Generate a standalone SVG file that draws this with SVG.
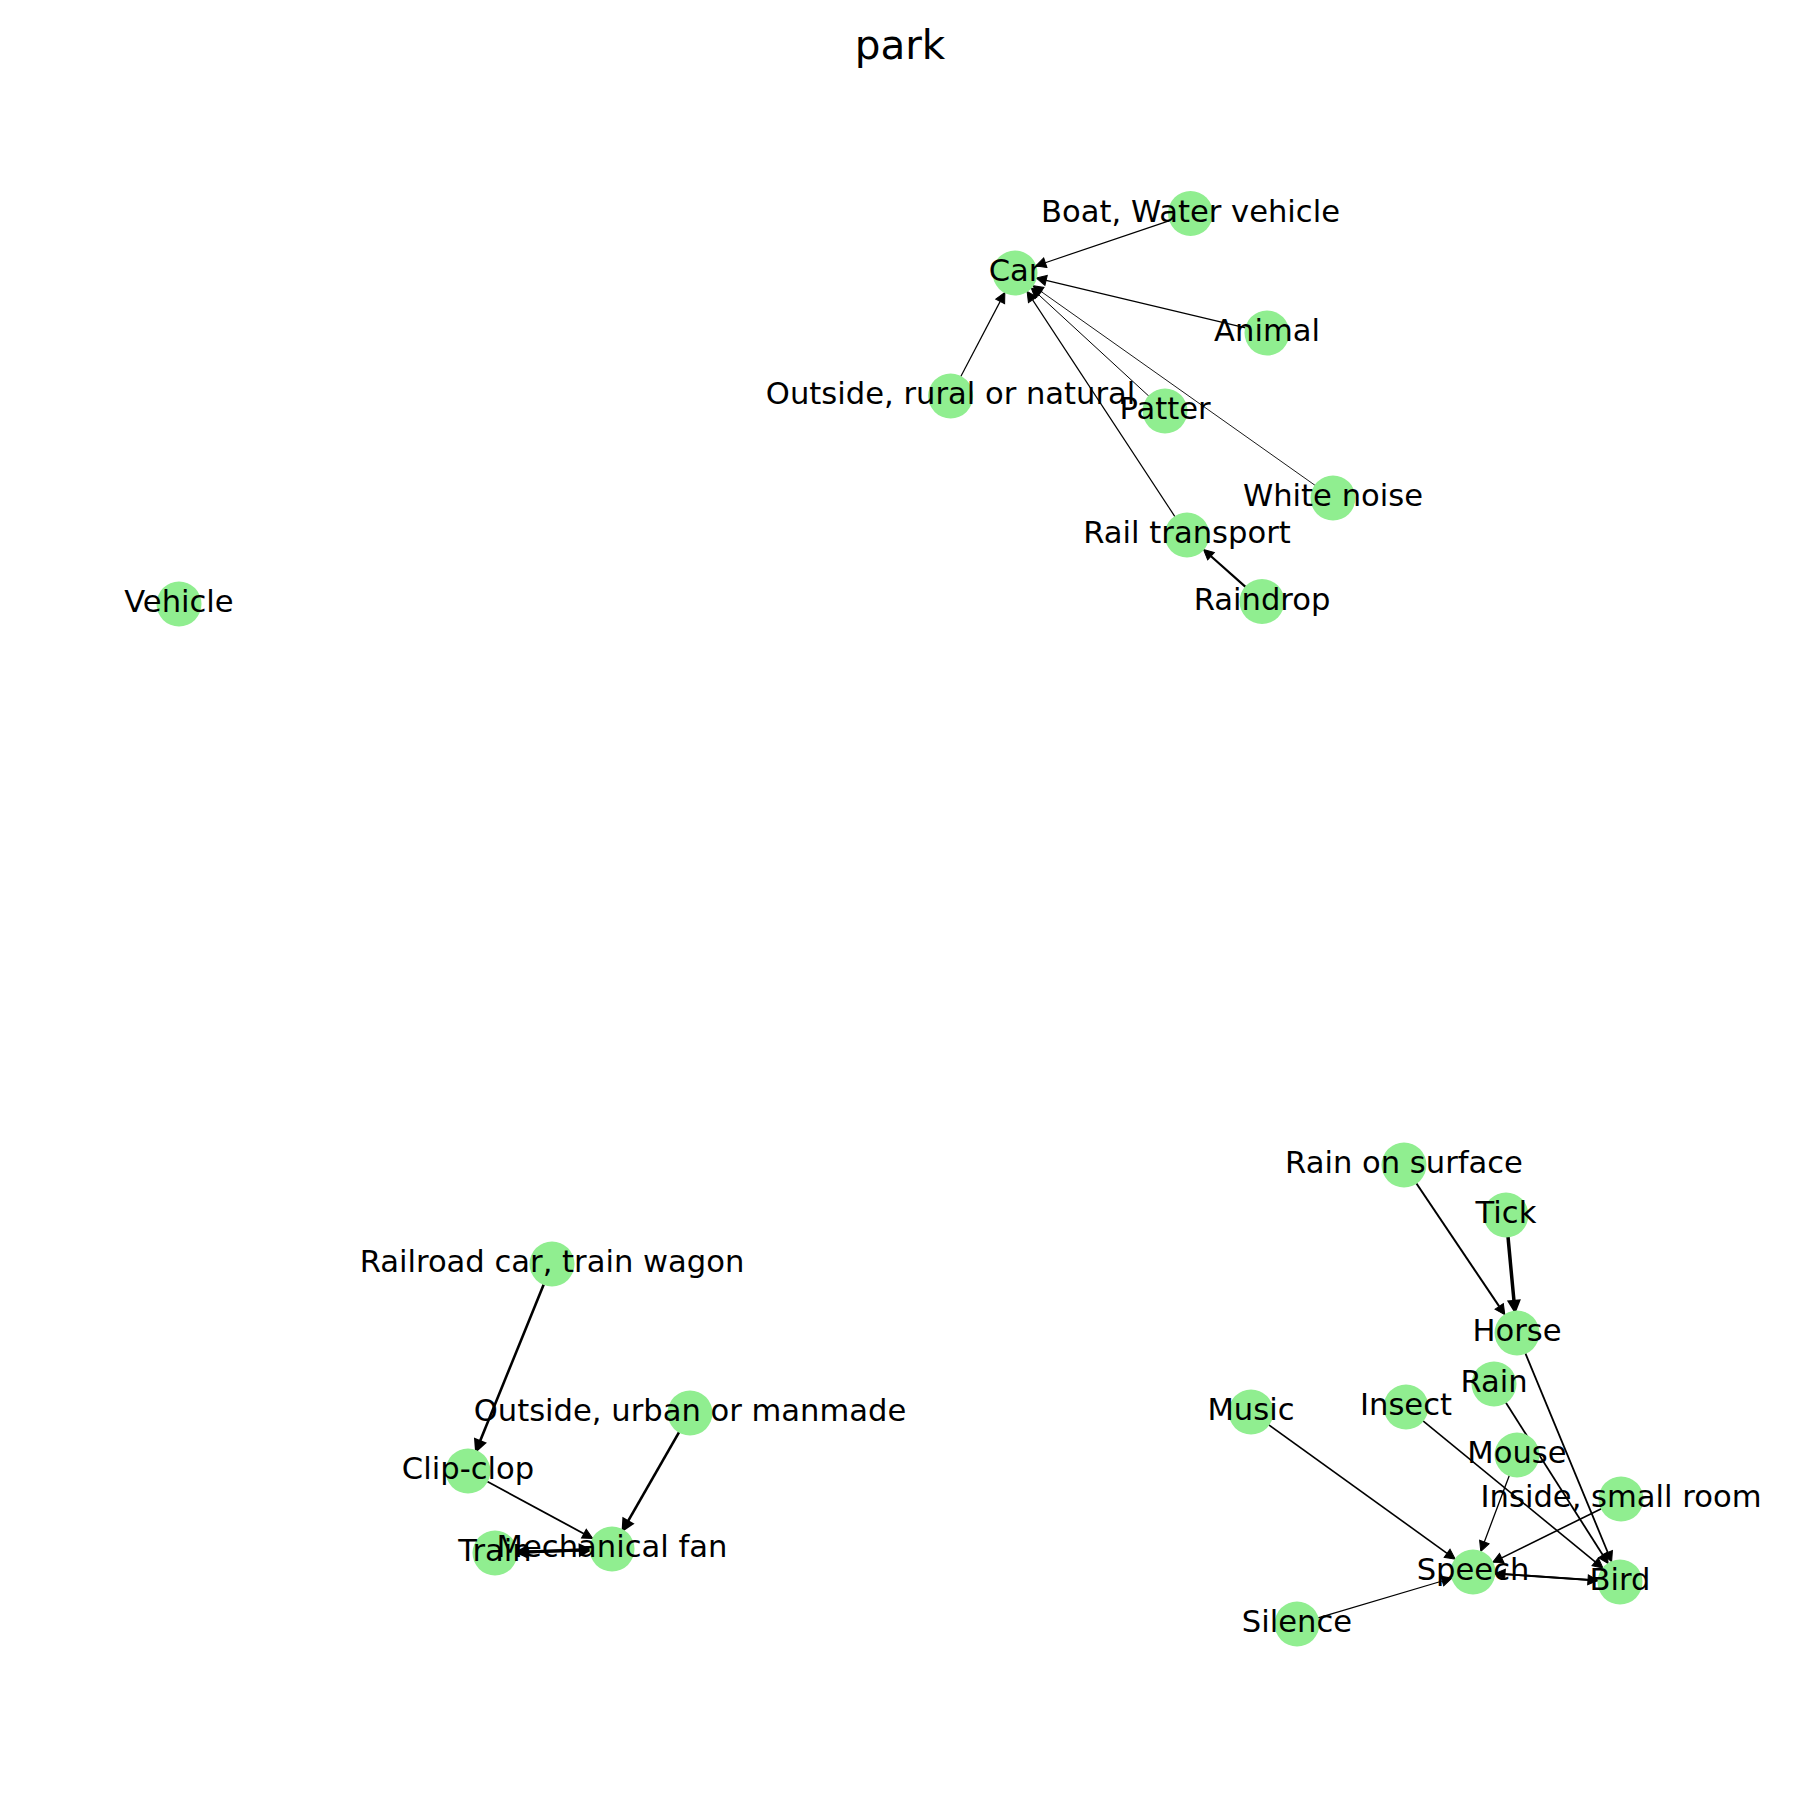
<svg xmlns="http://www.w3.org/2000/svg" width="1800" height="1800" viewBox="0 0 1800 1800">
<style>
.n circle{fill:#90ee90}
.n text{font-family:"DejaVu Sans",sans-serif;font-size:30.6px;text-anchor:middle;fill:#000}
.e line{stroke:#000;fill:none}
.t{font-family:"DejaVu Sans",sans-serif;font-size:40.5px;text-anchor:middle;fill:#000}
</style>
<defs>
<marker id="a" markerUnits="userSpaceOnUse" markerWidth="12" markerHeight="12" refX="0" refY="6" orient="auto" overflow="visible">
<path d="M0,1 L10,6 L0,11 z" fill="#000" stroke="#000" stroke-width="1"/>
</marker>
<marker id="b" markerUnits="userSpaceOnUse" markerWidth="12" markerHeight="12" refX="0" refY="6" orient="auto" overflow="visible">
<path d="M0,1 L10,6 L0,11 z" fill="#000" stroke="#000" stroke-width="2.5" stroke-linejoin="miter"/>
</marker>
</defs>
<rect width="1800" height="1800" fill="#fff"/>
<text class="t" x="900" y="59">park</text>
<g id="edges" class="e">
<line x1="1169.7" y1="220.6" x2="1045.3" y2="262.7" stroke-width="1.2" marker-end="url(#a)"/>
<line x1="1245.6" y1="327.9" x2="1046.1" y2="280.4" stroke-width="1.2" marker-end="url(#a)"/>
<line x1="960.8" y1="376.5" x2="1000.2" y2="301.4" stroke-width="1.2" marker-end="url(#a)"/>
<line x1="1148.8" y1="396.1" x2="1038.6" y2="294.7" stroke-width="1" marker-end="url(#a)"/>
<line x1="1315.0" y1="485.3" x2="1041.1" y2="291.5" stroke-width="0.9" marker-end="url(#a)"/>
<line x1="1174.9" y1="516.6" x2="1032.6" y2="299.8" stroke-width="1.2" marker-end="url(#a)"/>
<line x1="1245.5" y1="586.9" x2="1211.0" y2="556.2" stroke-width="2.2" marker-end="url(#a)"/>
<line x1="543.7" y1="1284.4" x2="480.0" y2="1441.3" stroke-width="2.6" marker-end="url(#b)"/>
<line x1="679.1" y1="1432.1" x2="627.9" y2="1521.3" stroke-width="2.6" marker-end="url(#b)"/>
<line x1="487.3" y1="1481.5" x2="583.9" y2="1533.7" stroke-width="1.8" marker-end="url(#a)"/>
<line x1="517" y1="1552.3" x2="580" y2="1550.1" stroke-width="3" marker-end="url(#b)"/>
<line x1="590" y1="1549.7" x2="527" y2="1551.9" stroke-width="3" marker-end="url(#b)"/>
<line x1="1416.3" y1="1183.3" x2="1499.2" y2="1306.4" stroke-width="2" marker-end="url(#a)"/>
<line x1="1508.0" y1="1236.9" x2="1514.0" y2="1301.2" stroke-width="3.5" marker-end="url(#b)"/>
<line x1="1525.4" y1="1353.3" x2="1607.8" y2="1552.5" stroke-width="1.8" marker-end="url(#a)"/>
<line x1="1505.8" y1="1402.6" x2="1602.8" y2="1555.0" stroke-width="1.8" marker-end="url(#a)"/>
<line x1="1423.0" y1="1420.9" x2="1595.2" y2="1561.8" stroke-width="1.6" marker-end="url(#a)"/>
<line x1="1509.3" y1="1475.6" x2="1484.3" y2="1542.0" stroke-width="1.3" marker-end="url(#a)"/>
<line x1="1268.8" y1="1424.9" x2="1447.1" y2="1553.3" stroke-width="1.6" marker-end="url(#a)"/>
<line x1="1601.3" y1="1508.7" x2="1501.7" y2="1557.9" stroke-width="1.6" marker-end="url(#a)"/>
<line x1="1495" y1="1573.5" x2="1588" y2="1579.8" stroke-width="1.8" marker-end="url(#a)"/>
<line x1="1598" y1="1580.5" x2="1505" y2="1574.2" stroke-width="1.8" marker-end="url(#a)"/>
<line x1="1318.1" y1="1617.8" x2="1442.3" y2="1581.0" stroke-width="1.3" marker-end="url(#a)"/>
</g>
<g id="node-car" class="n"><circle cx="1015" cy="273" r="22.5"/><text x="1015" y="281">Car</text></g>
<g id="node-boat" class="n"><circle cx="1190.5" cy="213.5" r="22.5"/><text x="1190.5" y="221.5">Boat, Water vehicle</text></g>
<g id="node-animal" class="n"><circle cx="1267" cy="333" r="22.5"/><text x="1267" y="341">Animal</text></g>
<g id="node-outside-rural" class="n"><circle cx="950.6" cy="396" r="22.5"/><text x="950.6" y="404">Outside, rural or natural</text></g>
<g id="node-patter" class="n"><circle cx="1165" cy="411" r="22.5"/><text x="1165" y="419">Patter</text></g>
<g id="node-white-noise" class="n"><circle cx="1333" cy="498" r="22.5"/><text x="1333" y="506">White noise</text></g>
<g id="node-rail-transport" class="n"><circle cx="1187" cy="535" r="22.5"/><text x="1187" y="543">Rail transport</text></g>
<g id="node-raindrop" class="n"><circle cx="1262" cy="601.5" r="22.5"/><text x="1262" y="609.5">Raindrop</text></g>
<g id="node-vehicle" class="n"><circle cx="179" cy="604" r="22.5"/><text x="179" y="612">Vehicle</text></g>
<g id="node-railroad-car" class="n"><circle cx="552" cy="1264" r="22.5"/><text x="552" y="1272">Railroad car, train wagon</text></g>
<g id="node-outside-urban" class="n"><circle cx="690" cy="1413" r="22.5"/><text x="690" y="1421">Outside, urban or manmade</text></g>
<g id="node-clip-clop" class="n"><circle cx="468" cy="1471" r="22.5"/><text x="468" y="1479">Clip-clop</text></g>
<g id="node-train" class="n"><circle cx="495" cy="1553" r="22.5"/><text x="495" y="1561">Train</text></g>
<g id="node-mechanical-fan" class="n"><circle cx="612" cy="1549" r="22.5"/><text x="612" y="1557">Mechanical fan</text></g>
<g id="node-rain-on-surface" class="n"><circle cx="1404" cy="1165" r="22.5"/><text x="1404" y="1173">Rain on surface</text></g>
<g id="node-tick" class="n"><circle cx="1506" cy="1215" r="22.5"/><text x="1506" y="1223">Tick</text></g>
<g id="node-horse" class="n"><circle cx="1517" cy="1333" r="22.5"/><text x="1517" y="1341">Horse</text></g>
<g id="node-rain" class="n"><circle cx="1494" cy="1384" r="22.5"/><text x="1494" y="1392">Rain</text></g>
<g id="node-music" class="n"><circle cx="1251" cy="1412" r="22.5"/><text x="1251" y="1420">Music</text></g>
<g id="node-insect" class="n"><circle cx="1406" cy="1407" r="22.5"/><text x="1406" y="1415">Insect</text></g>
<g id="node-mouse" class="n"><circle cx="1517" cy="1455" r="22.5"/><text x="1517" y="1463">Mouse</text></g>
<g id="node-inside-small-room" class="n"><circle cx="1621" cy="1499" r="22.5"/><text x="1621" y="1507">Inside, small room</text></g>
<g id="node-speech" class="n"><circle cx="1473" cy="1572" r="22.5"/><text x="1473" y="1580">Speech</text></g>
<g id="node-bird" class="n"><circle cx="1620" cy="1582" r="22.5"/><text x="1620" y="1590">Bird</text></g>
<g id="node-silence" class="n"><circle cx="1297" cy="1624" r="22.5"/><text x="1297" y="1632">Silence</text></g>
</svg>
